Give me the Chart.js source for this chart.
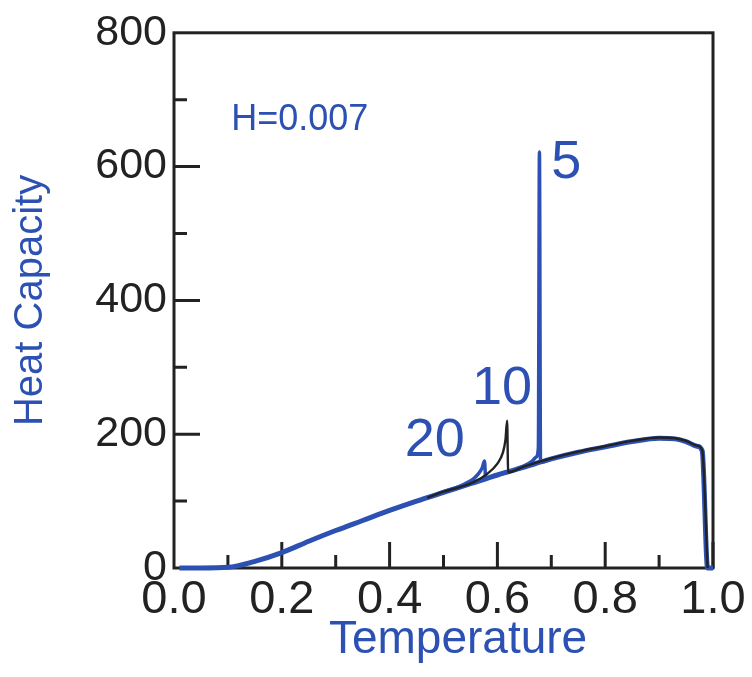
<!DOCTYPE html>
<html>
<head>
<meta charset="utf-8">
<script src="https://cdn.jsdelivr.net/npm/chart.js@4/dist/chart.umd.min.js"></script>
<style>
  html, body { margin: 0; padding: 0; background: #fff; }
  canvas { display: block; }
</style>
</head>
<body>
<canvas id="cv" width="752" height="677"></canvas>
<script>
// envelope curve (thick blue), temperature vs heat capacity
const baseT = [0.01, 0.05, 0.10, 0.15, 0.20, 0.25, 0.30, 0.35, 0.40, 0.45, 0.50, 0.55, 0.60, 0.65, 0.70, 0.75, 0.80, 0.85, 0.90, 0.93, 0.95, 0.97, 0.98, 0.99, 1.00];
const baseC = [0, 0, 1, 10, 23, 40, 56, 71, 86, 100, 113, 126, 139, 151, 163, 173, 181, 189, 194, 193, 189, 182, 175, 0, 0];

// N = 20 (blue), small cusp
const t20 = [0.48, 0.50, 0.52, 0.54, 0.555, 0.565, 0.572, 0.576, 0.578];
const c20 = [108, 114, 119, 126, 133, 141, 150, 160, 134];

// N = 10 (black)
const t10 = [0.47, 0.50, 0.53, 0.555, 0.58, 0.60, 0.61, 0.615, 0.618, 0.620, 0.65, 0.70, 0.75, 0.80, 0.85, 0.90, 0.93, 0.95, 0.97, 0.98, 0.99];
const c10 = [105, 114, 121, 128, 140, 156, 172, 192, 220, 143, 152, 164, 174, 182, 190, 195, 194, 190, 183, 176, 0];

// N = 5 (blue), tall spike
const t5 = [0.60, 0.62, 0.64, 0.655, 0.665, 0.672, 0.676, 0.678, 0.680, 0.70];
const c5 = [139, 143, 149, 155, 160, 166, 180, 622, 158, 163];

const xTicks = [0, 0.2, 0.4, 0.6, 0.8, 1.0];
const yTicks = [0, 200, 400, 600, 800];

// text labels: [text, T, C, size]
const notes = [
    ['H=0.007', 0.106, 670, 36],
    ['5', 0.70, 605, 54],
    ['10', 0.553, 268, 54],
    ['20', 0.428, 190, 54]
];

const BLUE = '#2c51b3';
const INK = '#222222';
const FONT = '"Liberation Sans", Arial, sans-serif';

const pts = (xs, ys) => xs.map((x, i) => ({ x: x, y: ys[i] }));

// frame + inner ticks (major every 0.2 / 200, minor in between)
const framePlugin = {
    id: 'frame',
    beforeDatasetsDraw(chart) {
        const { ctx, chartArea: a, scales: { x, y } } = chart;
        ctx.save();
        ctx.strokeStyle = INK;
        ctx.lineWidth = 3;
        ctx.beginPath();
        for (let v = 0.1; v < 1.0; v += 0.1) {
            const px = x.getPixelForValue(v);
            const major = Math.round(v * 10) % 2 === 0;
            ctx.moveTo(px, a.bottom);
            ctx.lineTo(px, a.bottom - (major ? 26 : 13));
        }
        for (let v = 100; v < 800; v += 100) {
            const py = y.getPixelForValue(v);
            const major = v % 200 === 0;
            ctx.moveTo(a.left, py);
            ctx.lineTo(a.left + (major ? 26 : 13), py);
        }
        ctx.stroke();
        ctx.strokeRect(a.left, a.top, a.right - a.left, a.bottom - a.top);
        ctx.restore();
    },
    afterDatasetsDraw(chart) {
        const { ctx, chartArea: a, scales: { x, y } } = chart;
        ctx.save();
        ctx.fillStyle = BLUE;
        ctx.textAlign = 'left';
        ctx.textBaseline = 'middle';
        notes.forEach(([txt, tx, cy, size]) => {
            ctx.font = size + 'px ' + FONT;
            ctx.fillText(txt, x.getPixelForValue(tx), y.getPixelForValue(cy));
        });
        // x axis title, sits a little right of centre in the original
        ctx.textAlign = 'center';
        ctx.font = '46px ' + FONT;
        ctx.fillText('Temperature', x.getPixelForValue(0.527), a.bottom + 72);
        ctx.restore();
    }
};

const lineStyle = (color, w) => ({
    borderColor: color,
    backgroundColor: color,
    borderWidth: w,
    pointRadius: 0,
    fill: false,
    cubicInterpolationMode: 'monotone',
    clip: 6
});

new Chart(document.getElementById('cv'), {
    type: 'line',
    data: {
        datasets: [
            { label: '10', data: pts(t10, c10), ...lineStyle(INK, 2.4) },
            { label: '5', data: pts(t5, c5), ...lineStyle(BLUE, 3.5) },
            { label: '20', data: pts(t20, c20), ...lineStyle(BLUE, 3.5) },
            { label: 'base', data: pts(baseT, baseC), ...lineStyle(BLUE, 5) }
        ]
    },
    options: {
        responsive: false,
        animation: false,
        devicePixelRatio: 1,
        layout: { padding: { top: 31, right: 39, left: 0, bottom: 0 } },
        plugins: { legend: { display: false }, tooltip: { enabled: false } },
        scales: {
            x: {
                type: 'linear',
                min: 0, max: 1,
                afterFit: s => { s.height = 109; },
                afterBuildTicks: s => { s.ticks = xTicks.map(v => ({ value: v })); },
                grid: { display: false, drawTicks: false },
                border: { display: false },
                ticks: {
                    color: INK,
                    font: { family: FONT, size: 47 },
                    padding: 4,
                    maxRotation: 0,
                    callback: v => v.toFixed(1)
                },
                title: { display: false }
            },
            y: {
                type: 'linear',
                min: 0, max: 800,
                afterFit: s => { s.width = 174; },
                afterBuildTicks: s => { s.ticks = yTicks.map(v => ({ value: v })); },
                grid: { display: false, drawTicks: false },
                border: { display: false },
                ticks: {
                    color: INK,
                    font: { family: FONT, size: 43 },
                    padding: 7
                },
                title: {
                    display: true,
                    text: 'Heat Capacity',
                    color: BLUE,
                    font: { family: FONT, size: 40 },
                    padding: { top: 7, bottom: 8 }
                }
            }
        }
    },
    plugins: [framePlugin]
});
</script>
</body>
</html>
